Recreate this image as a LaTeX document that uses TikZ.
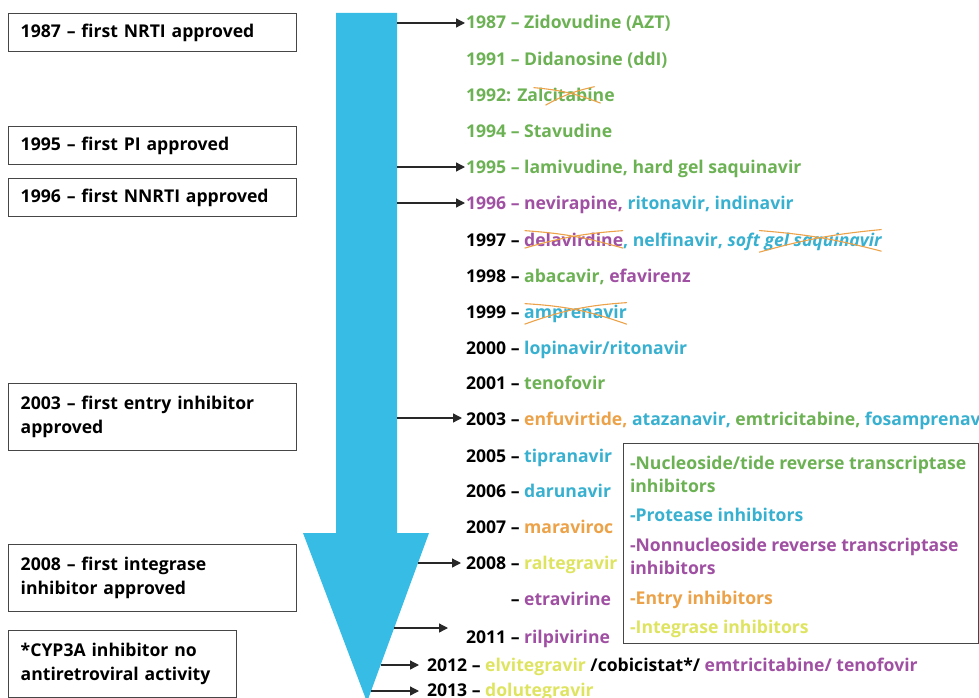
\documentclass[tikz,border=0pt]{standalone}
\usepackage{fontspec}
\setmainfont{Open Sans}
\usetikzlibrary{arrows.meta,calc}
\definecolor{cgreen}{RGB}{108,178,84}
\definecolor{ccyan}{RGB}{56,176,208}
\definecolor{cpurple}{RGB}{160,80,162}
\definecolor{corange}{RGB}{236,162,72}
\definecolor{cyellow}{RGB}{222,228,96}
\definecolor{arrowblue}{RGB}{55,188,230}
\definecolor{boxgray}{RGB}{70,70,70}
\definecolor{linegray}{RGB}{40,40,40}
\begin{document}
\begin{tikzpicture}[x=1pt,y=-1pt,
  font=\fontsize{17.6}{24}\selectfont\bfseries,
  tl/.style={anchor=base west,inner sep=0pt,outer sep=0pt},
  leftbox/.style={draw=boxgray,line width=1.4pt,anchor=north west,inner xsep=12pt,inner ysep=0pt,
     text width=264pt,align=left,minimum height=38pt},
  conn/.style={draw=linegray,line width=1.3pt,-{Triangle[length=9pt,width=9pt]}},
  strike/.style={draw=corange,line width=1.1pt}]
\useasboundingbox (0,0) rectangle (979,698);
\clip (0,0) rectangle (979,698);

% big arrow
\fill[arrowblue] (336,13) -- (397,13) -- (397,533) -- (429,533) -- (367,702) -- (303,533) -- (336,533) -- cycle;

% left boxes
\node[leftbox] (b1987) at (8,13) {1987 – first NRTI approved};
\node[leftbox] (b1995) at (8,126) {1995 – first PI approved};
\node[leftbox] (b1996) at (8,178) {1996 – first NNRTI approved};
\node[leftbox,minimum height=67pt] (b2003) at (8,383) {2003 – first entry inhibitor\\approved};
\node[leftbox,minimum height=67pt] (b2008) at (8,544) {2008 – first integrase\\inhibitor approved};
\node[leftbox,minimum height=67pt,text width=204pt] (bcyp) at (8,630) {*CYP3A inhibitor no\\antiretroviral activity};

% timeline entries
\node[tl,text=cgreen] (t1987) at (466,29) {1987 – Zidovudine (AZT)};
\node[tl,text=cgreen] (t1991) at (466,66) {1991 – Didanosine (ddI)};
\node[tl,text=cgreen] (t1992) at (466,102) {1992: Z};
\node[tl,text=cgreen] (zal) at (t1992.base east) {alcitabine};
\node[tl,text=cgreen] (t1994) at (466,137) {1994 – Stavudine};
\node[tl,text=cgreen] (t1995) at (466,173) {1995 – lamivudine, hard gel saquinavir};
\node[tl,text=cpurple] (t1996) at (466,209) {1996 – nevirapine, \textcolor{ccyan}{ritonavir, indinavir}};
\node[tl] (t1997) at (466,246) {1997 –};
\node[tl,text=cpurple] (dela) at (t1997.base east) {~delavirdine};
\node[tl,text=ccyan] (nelf) at (dela.base east) {, nelfinavir,};
\node[tl,text=ccyan] (soft) at (nelf.base east) {~\itshape soft gel saquinavir};
\node[tl] (t1998) at (466,282) {1998 – \textcolor{cgreen}{abacavir,} \textcolor{cpurple}{efavirenz}};
\node[tl] (t1999) at (466,318) {1999 –};
\node[tl,text=ccyan] (ampr) at (t1999.base east) {~amprenavir};
\node[tl] (t2000) at (466,354) {2000 – \textcolor{ccyan}{lopinavir/ritonavir}};
\node[tl] (t2001) at (466,389) {2001 – \textcolor{cgreen}{tenofovir}};
\node[tl] (t2003) at (466,425) {2003 – \textcolor{corange}{enfuvirtide,} \textcolor{ccyan}{atazanavir,} \textcolor{cgreen}{emtricitabine,} \textcolor{ccyan}{fosamprenavir}};
\node[tl] (t2005) at (466,462) {2005 – \textcolor{ccyan}{tipranavir}};
\node[tl] (t2006) at (466,497) {2006 – \textcolor{ccyan}{darunavir}};
\node[tl] (t2007) at (466,533) {2007 – \textcolor{corange}{maraviroc}};
\node[tl] (t2008) at (466,569) {2008 – \textcolor{cyellow}{raltegravir}};
\node[tl] (tetra) at (466,605) {\phantom{2008}~– \textcolor{cpurple}{etravirine}};
\node[tl] (t2011) at (466,643) {2011 – \textcolor{cpurple}{rilpivirine}};
\node[tl] (t2012) at (427,671) {2012 – \textcolor{cyellow}{elvitegravir} /cobicistat*/ \textcolor{cpurple}{emtricitabine/ tenofovir}};
\node[tl] (t2013) at (427,696) {2013 – \textcolor{cyellow}{dolutegravir}};

% strike-throughs
\draw[strike] ([xshift=6pt,yshift=1pt]zal.north west) to[bend left=8] ([xshift=-14pt,yshift=-1pt]zal.south east);
\draw[strike] ([xshift=18pt,yshift=-3pt]zal.south west) to[bend left=8] ([xshift=-20pt,yshift=2pt]zal.north east);
\draw[strike] ([xshift=5pt,yshift=2pt]dela.north west) to[bend left=6] ([yshift=-2pt]dela.south east);
\draw[strike] ([xshift=5pt,yshift=-2pt]dela.south west) to[bend left=6] ([yshift=2pt]dela.north east);
\draw[strike] ([xshift=36pt,yshift=2pt]soft.north west) to[bend left=5] ([yshift=-1pt]soft.south east);
\draw[strike] ([xshift=36pt,yshift=-2pt]soft.south west) to[bend left=5] ([yshift=3pt]soft.north east);
\draw[strike] ([xshift=5pt,yshift=1pt]ampr.north west) to[bend left=8] ([yshift=-2pt]ampr.south east);
\draw[strike] ([xshift=5pt,yshift=-2pt]ampr.south west) to[bend left=8] ([yshift=2pt]ampr.north east);

% legend
\node[draw=boxgray,line width=1.3pt,fill=white,anchor=north west,minimum width=355pt,minimum height=200pt,inner sep=0pt] (legend) at (623,443) {};
\node[tl,text=cgreen] (lg1) at (630,469) {-Nucleoside/tide reverse transcriptase};
\node[tl,text=cgreen] (lg1b) at (630,492) {inhibitors};
\node[tl,text=ccyan] (lg2) at (630,521) {-Protease inhibitors};
\node[tl,text=cpurple] (lg3) at (630,551) {-Nonnucleoside reverse transcriptase};
\node[tl,text=cpurple] (lg3b) at (630,574) {inhibitors};
\node[tl,text=corange] (lg4) at (630,604) {-Entry inhibitors};
\node[tl,text=cyellow] (lg5) at (630,633) {-Integrase inhibitors};

% connectors from the timeline arrow
\coordinate (s1987) at (397,23);
\coordinate (s1995) at (397,167);
\coordinate (s1996) at (397,203);
\coordinate (s2003) at (397,418);
\coordinate (s2008) at (418,563);
\coordinate (s2011) at (394,628);
\coordinate (s2012) at (381,665);
\coordinate (s2013) at (371,691);
\draw[conn] (s1987) -- ($(s1987 -| t1987.west)+(-1,0)$);
\draw[conn] (s1995) -- ($(s1995 -| t1995.west)+(-1,0)$);
\draw[conn] (s1996) -- ($(s1996 -| t1996.west)+(-1,0)$);
\draw[conn] (s2003) -- ($(s2003 -| t2003.west)+(-4,0)$);
\draw[conn] (s2008) -- ($(s2008 -| t2008.west)+(-5,0)$);
\draw[conn] (s2011) -- ($(s2011 -| t2011.west)+(-18,0)$);
\draw[conn] (s2012) -- ($(s2012 -| t2012.west)+(-8,0)$);
\draw[conn] (s2013) -- ($(s2013 -| t2013.west)+(-8,0)$);
\end{tikzpicture}
\end{document}
